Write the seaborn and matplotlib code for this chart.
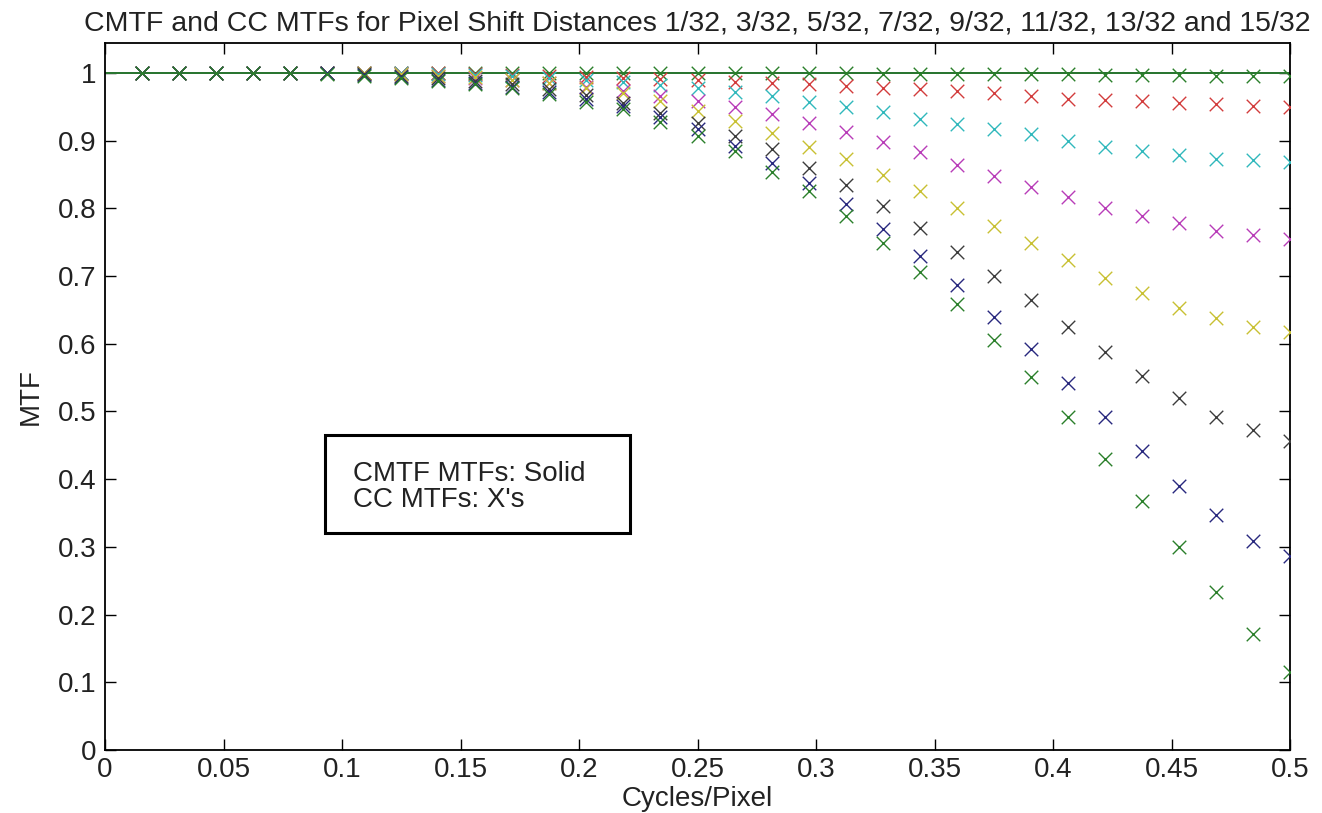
import numpy as np
import pandas as pd
import matplotlib
matplotlib.use("Agg")
import matplotlib.pyplot as plt
import seaborn as sns
from matplotlib.patches import Rectangle

# ---------------- data ----------------
title = ("CMTF and CC MTFs for Pixel Shift Distances "
         "1/32, 3/32, 5/32, 7/32, 9/32, 11/32, 13/32 and 15/32")
shifts = ["1/32", "3/32", "5/32", "7/32", "9/32", "11/32", "13/32", "15/32"]
colors = ["#2a7f2a", "#d23c3c", "#30b8bc", "#b83cb8",
          "#c8c032", "#3c3c3c", "#28287e", "#2a7f2a"]

# frequencies of the CC samples (k/64 cycles/pixel, k = 1..32)
freq = np.arange(1, 33) / 64.0

cc_1_32 = [1.000, 1.000, 1.000, 1.000, 1.000, 1.000, 1.000, 1.000, 1.000, 1.000, 1.000, 1.000,
           0.999, 0.999, 0.999, 0.999, 0.999, 0.999, 0.999, 0.999, 0.998, 0.998, 0.998, 0.998,
           0.998, 0.998, 0.997, 0.997, 0.997, 0.996, 0.996, 0.995]
cc_3_32 = [1.000, 1.000, 1.000, 1.000, 1.000, 1.000, 1.000, 0.999, 0.999, 0.998, 0.997, 0.996,
           0.994, 0.993, 0.991, 0.989, 0.987, 0.985, 0.983, 0.981, 0.978, 0.976, 0.973, 0.970,
           0.966, 0.962, 0.960, 0.958, 0.956, 0.954, 0.951, 0.950]
cc_5_32 = [1.000, 1.000, 1.000, 1.000, 1.000, 1.000, 1.000, 0.999, 0.998, 0.997, 0.995, 0.993,
           0.990, 0.986, 0.982, 0.977, 0.972, 0.965, 0.957, 0.950, 0.942, 0.932, 0.924, 0.917,
           0.909, 0.900, 0.891, 0.884, 0.879, 0.873, 0.871, 0.868]
cc_7_32 = [1.000, 1.000, 1.000, 1.000, 1.000, 1.000, 0.999, 0.998, 0.996, 0.993, 0.990, 0.985,
           0.979, 0.973, 0.966, 0.958, 0.950, 0.939, 0.926, 0.913, 0.898, 0.883, 0.864, 0.848,
           0.832, 0.817, 0.801, 0.789, 0.778, 0.766, 0.760, 0.755]
cc_9_32 = [1.000, 1.000, 1.000, 1.000, 1.000, 1.000, 0.999, 0.998, 0.996, 0.994, 0.990, 0.985,
           0.978, 0.970, 0.958, 0.944, 0.929, 0.911, 0.891, 0.872, 0.849, 0.826, 0.800, 0.774,
           0.748, 0.723, 0.697, 0.675, 0.653, 0.638, 0.625, 0.617]
cc_11_32 = [1.000, 1.000, 1.000, 1.000, 1.000, 0.999, 0.998, 0.996, 0.993, 0.988, 0.983, 0.976,
            0.967, 0.956, 0.941, 0.926, 0.906, 0.887, 0.860, 0.834, 0.803, 0.771, 0.736, 0.700,
            0.664, 0.625, 0.587, 0.552, 0.520, 0.491, 0.472, 0.457]
cc_13_32 = [1.000, 1.000, 1.000, 1.000, 1.000, 0.999, 0.997, 0.994, 0.990, 0.985, 0.979, 0.971,
            0.962, 0.951, 0.934, 0.917, 0.892, 0.867, 0.838, 0.806, 0.769, 0.730, 0.686, 0.640,
            0.592, 0.542, 0.492, 0.441, 0.390, 0.347, 0.309, 0.287]
cc_15_32 = [1.000, 1.000, 1.000, 1.000, 0.999, 0.998, 0.996, 0.993, 0.988, 0.983, 0.977, 0.968,
            0.957, 0.946, 0.927, 0.906, 0.884, 0.854, 0.825, 0.789, 0.749, 0.706, 0.658, 0.605,
            0.551, 0.492, 0.430, 0.367, 0.300, 0.234, 0.171, 0.115]
cc_series = [cc_1_32, cc_3_32, cc_5_32, cc_7_32, cc_9_32, cc_11_32, cc_13_32, cc_15_32]

# CMTF curves: flat at 1 over the whole band
cmtf_freq = [0.0, 0.5]
cmtf_values = [1.0, 1.0]

xticks = [0, 0.05, 0.1, 0.15, 0.2, 0.25, 0.3, 0.35, 0.4, 0.45, 0.5]
xticklabels = ["0", "0.05", "0.1", "0.15", "0.2", "0.25", "0.3", "0.35", "0.4", "0.45", "0.5"]
yticks = [0, 0.1, 0.2, 0.3, 0.4, 0.5, 0.6, 0.7, 0.8, 0.9, 1.0]
yticklabels = ["0", "0.1", "0.2", "0.3", "0.4", "0.5", "0.6", "0.7", "0.8", "0.9", "1"]
note_lines = ["CMTF MTFs: Solid", "CC MTFs: X's"]

# ---------------- frames ----------------
cc_df = pd.concat(
    [pd.DataFrame({"freq": freq, "mtf": vals, "shift": s}) for s, vals in zip(shifts, cc_series)],
    ignore_index=True)
line_df = pd.concat(
    [pd.DataFrame({"freq": cmtf_freq, "mtf": cmtf_values, "shift": s}) for s in shifts],
    ignore_index=True)
palette = dict(zip(shifts, colors))

# ---------------- style ----------------
sns.set_style("ticks")
plt.rcParams["font.family"] = ["Liberation Sans", "DejaVu Sans"]
FS = 20
TXT = "#222222"

fig = plt.figure(figsize=(13.22, 8.13), dpi=100)
W, H = 1322, 813
ax = fig.add_axes([105 / W, 63 / H, 1185 / W, 707 / H])

for s in shifts:
    sns.lineplot(data=line_df[line_df["shift"] == s], x="freq", y="mtf",
                 color=palette[s], lw=1.3, ax=ax, legend=False)

for s in shifts:
    sub = cc_df[cc_df["shift"] == s]
    sns.scatterplot(data=sub, x="freq", y="mtf", color=palette[s], marker="x",
                    s=95, linewidth=1.0, ax=ax, legend=False, zorder=3)

ax.set_xlim(0, 0.5)
ax.set_ylim(0, 1.044)
ax.set_xticks(xticks)
ax.set_xticklabels(xticklabels)
ax.set_yticks(yticks)
ax.set_yticklabels(yticklabels)
ax.tick_params(direction="in", length=8, width=1.0, top=True, right=True,
               labelsize=FS, colors="black", labelcolor=TXT, pad=6)
ax.tick_params(axis="x", pad=5)
for sp in ax.spines.values():
    sp.set_visible(True)
    sp.set_linewidth(1.3)
    sp.set_color("black")

ax.set_xlabel("Cycles/Pixel", fontsize=FS, labelpad=2, color=TXT)
ax.set_ylabel("MTF", fontsize=FS, labelpad=10, color=TXT)
ax.set_title(title, fontsize=20.5, pad=9, color=TXT)

# annotation box
ax.add_patch(Rectangle((0.0928, 0.3205), 0.1287, 0.1445, facecolor="white",
                       edgecolor="black", linewidth=2.2, zorder=4))
ax.text(0.1046, 0.4077, note_lines[0], fontsize=FS, va="center", ha="left", zorder=5, color=TXT)
ax.text(0.1046, 0.369, note_lines[1], fontsize=FS, va="center", ha="left", zorder=5, color=TXT)

fig.savefig("out.png", dpi=100)
